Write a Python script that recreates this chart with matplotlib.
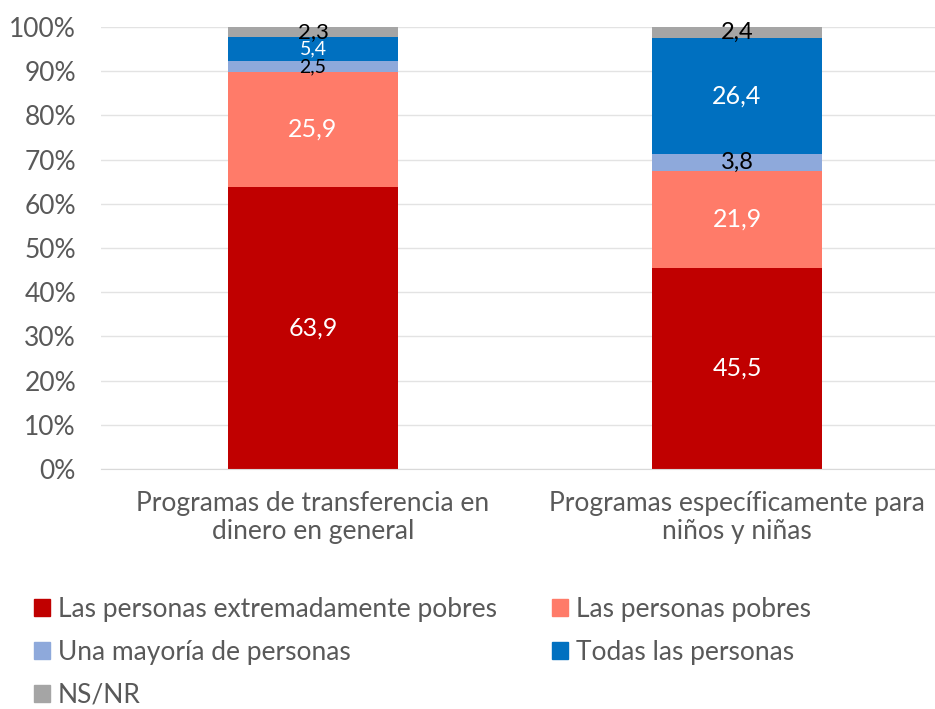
import matplotlib
matplotlib.use('Agg')
import matplotlib.pyplot as plt
from matplotlib.patches import Patch
import numpy as np

plt.rcParams['font.family'] = ['Lato', 'DejaVu Sans']

categories = ['Programas de transferencia en\ndinero en general',
              'Programas específicamente para\nniños y niñas']
series = ['Las personas extremadamente pobres', 'Las personas pobres',
          'Una mayoría de personas', 'Todas las personas', 'NS/NR']
extremos = [63.9, 45.5]
pobres = [25.9, 21.9]
mayoria = [2.5, 3.8]
todas = [5.4, 26.4]
nsnr = [2.3, 2.4]
values = [extremos, pobres, mayoria, todas, nsnr]
colors = ['#C00000', '#FF7B69', '#8EA9DB', '#0070C0', '#A5A5A5']
label_colors = ['white', 'white', 'black', 'white', 'black']
# font size of each value label, per series and per bar
label_sizes = [[18, 18], [18, 18], [14, 17], [14, 18], [16, 17]]

fig = plt.figure(figsize=(9.35, 7.09), dpi=100)
ax = fig.add_axes([101/935, 240/709, 834/935, 442/709])

x = np.arange(len(categories))
bottom = np.zeros(len(categories))
for vals, col, lc, sizes, name in zip(values, colors, label_colors, label_sizes, series):
    vals = np.array(vals)
    ax.bar(x, vals, 0.4, bottom=bottom, color=col, label=name, zorder=2)
    for xi, b, v, sz in zip(x, bottom, vals, sizes):
        ax.text(xi, b + v / 2, f'{v:.1f}'.replace('.', ','), ha='center', va='center',
                color=lc, fontsize=sz, zorder=3)
    bottom += vals

ax.set_xlim(-0.5, 834/424 - 0.5)
ax.set_ylim(0, 100)
ax.set_yticks(np.arange(0, 101, 10))
ax.set_yticklabels([f'{t}%' for t in range(0, 101, 10)], fontsize=19, color='#595959')
ax.set_xticks(x)
ax.set_xticklabels(categories, fontsize=19, color='#595959', linespacing=1.15)
ax.tick_params(axis='y', length=0, pad=18)
ax.tick_params(axis='x', length=0, pad=16)
ax.yaxis.grid(True, color='#E3E3E3', linewidth=1, zorder=0)
ax.set_axisbelow(True)
for s in ['top', 'right', 'left']:
    ax.spines[s].set_visible(False)
ax.spines['bottom'].set_color('#D9D9D9')

handles = [Patch(color=c) for c in colors]
order = [0, 2, 4, 1, 3]
fig.legend([handles[i] for i in order], [series[i] for i in order],
           loc='upper left', bbox_to_anchor=(10/935, 1 - 573/709), ncol=2,
           frameon=False, fontsize=19, labelcolor='#595959',
           handlelength=0.6, handleheight=0.6, handletextpad=0.3,
           columnspacing=2.1, labelspacing=0.68)

fig.savefig('out.png', dpi=100, facecolor='white')
